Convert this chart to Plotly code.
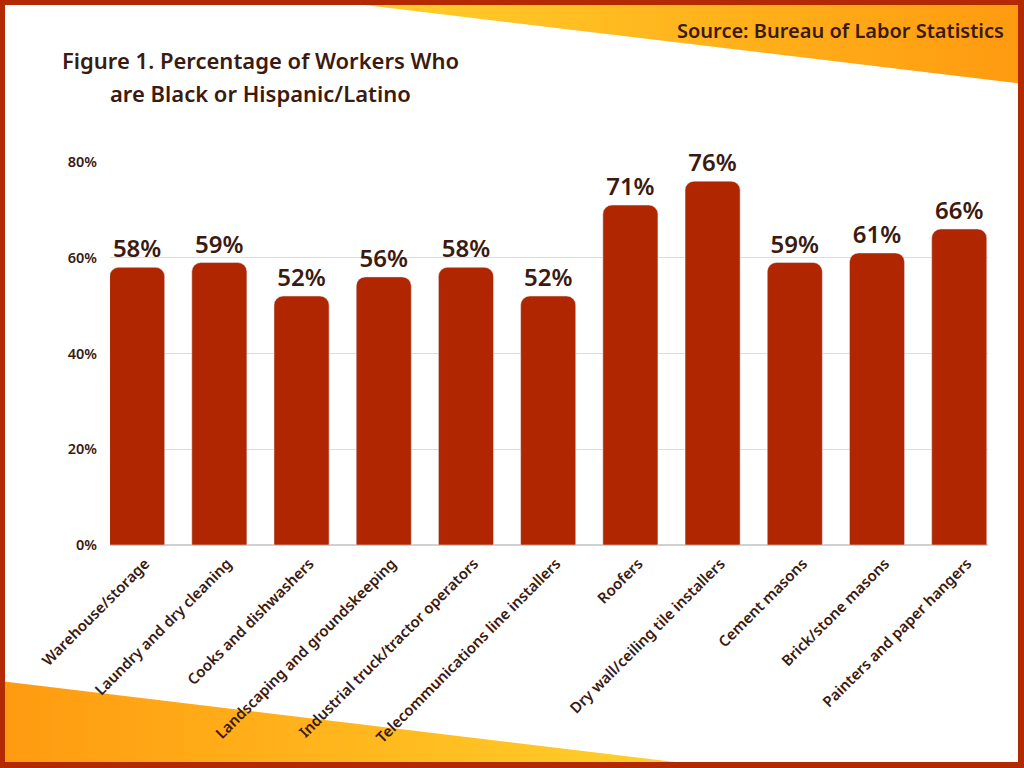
import plotly.graph_objects as go

categories = ["Warehouse/storage", "Laundry and dry cleaning", "Cooks and dishwashers",
              "Landscaping and groundskeeping", "Industrial truck/tractor operators",
              "Telecommunications line installers", "Roofers", "Dry wall/ceiling tile installers",
              "Cement masons", "Brick/stone masons", "Painters and paper hangers"]
values = [58, 59, 52, 56, 58, 52, 71, 76, 59, 61, 66]
y_ticks = [0, 20, 40, 60, 80]
y_tick_labels = ["0%", "20%", "40%", "60%", "80%"]

W, H = 1024, 768
FONT = "Noto Sans"
DARK = "#3B1A10"
BAR = "#B02600"
FRAME = "#B32A02"

fig = go.Figure()

# decorative wedges (background axes in pixel units)
fig.add_trace(go.Scatter(
    x=[323, 1024, 1024, 323], y=[0, 0, 84, 0], mode="lines", line=dict(width=0),
    fill="toself", fillcolor="#FFB81C",
    fillgradient=dict(type="horizontal", colorscale=[[0, "#FFD22C"], [1, "#FF9A10"]]),
    hoverinfo="skip", showlegend=False, xaxis="x", yaxis="y"))
fig.add_trace(go.Scatter(
    x=[0, 0, 725, 0], y=[681, 768, 768, 681], mode="lines", line=dict(width=0),
    fill="toself", fillcolor="#FFB81C",
    fillgradient=dict(type="horizontal", colorscale=[[0, "#FF9A10"], [1, "#FFD52C"]]),
    hoverinfo="skip", showlegend=False, xaxis="x", yaxis="y"))

# bars
fig.add_trace(go.Bar(
    x=categories, y=values, marker=dict(color=BAR, cornerradius=9),
    texttemplate="%{y}%", textposition="outside", cliponaxis=False,
    textfont=dict(family=FONT, size=24, color=DARK, weight=600),
    hoverinfo="skip", showlegend=False, xaxis="x2", yaxis="y2"))

fig.update_layout(
    width=W, height=H, margin=dict(l=0, r=0, t=0, b=0),
    paper_bgcolor="white", plot_bgcolor="rgba(0,0,0,0)",
    bargap=0.33,
    xaxis=dict(domain=[0, 1], range=[0, W], visible=False, fixedrange=True),
    yaxis=dict(domain=[0, 1], range=[H, 0], visible=False, fixedrange=True),
    xaxis2=dict(domain=[110 / W, 988 / W], range=[-0.33, 10.35], anchor="y2",
                type="category", tickangle=-45, showgrid=False, showline=False,
                ticks="outside", ticklen=3, tickcolor="rgba(0,0,0,0)",
                ticklabelshift=8,
                tickfont=dict(family=FONT, size=15, color=DARK, weight=600),
                automargin=False),
    yaxis2=dict(domain=[(H - 545) / H, (H - 162) / H], range=[0, 80], anchor="x2",
                tickvals=y_ticks, ticktext=y_tick_labels, showgrid=True,
                gridcolor="#DCDCDC", gridwidth=1, zeroline=True, zerolinecolor="#D0D0D0",
                ticklabelstandoff=12,
                tickfont=dict(family=FONT, size=14.5, color=DARK, weight=600),
                automargin=False),
    shapes=[
        dict(type="rect", xref="x", yref="y", x0=0, x1=W, y0=0, y1=5, fillcolor=FRAME, line_width=0, layer="above"),
        dict(type="rect", xref="x", yref="y", x0=0, x1=W, y0=H - 6, y1=H, fillcolor=FRAME, line_width=0, layer="above"),
        dict(type="rect", xref="x", yref="y", x0=0, x1=5, y0=0, y1=H, fillcolor=FRAME, line_width=0, layer="above"),
        dict(type="rect", xref="x", yref="y", x0=W - 6, x1=W, y0=0, y1=H, fillcolor=FRAME, line_width=0, layer="above"),
    ],
    annotations=[
        dict(text="Figure 1. Percentage of Workers Who",
             xref="paper", yref="paper", x=260 / W, y=1 - 60 / H, xanchor="center", yanchor="middle",
             showarrow=False, font=dict(family=FONT, size=22, color=DARK, weight=600)),
        dict(text="are Black or Hispanic/Latino",
             xref="paper", yref="paper", x=260 / W, y=1 - 93 / H, xanchor="center", yanchor="middle",
             showarrow=False, font=dict(family=FONT, size=22, color=DARK, weight=600)),
        dict(text="Source: Bureau of Labor Statistics", xref="paper", yref="paper",
             x=1006 / W, y=1 - 30 / H, xanchor="right", yanchor="middle", showarrow=False,
             font=dict(family=FONT, size=20, color=DARK, weight=600)),
    ],
)

fig.write_html("out.html")
